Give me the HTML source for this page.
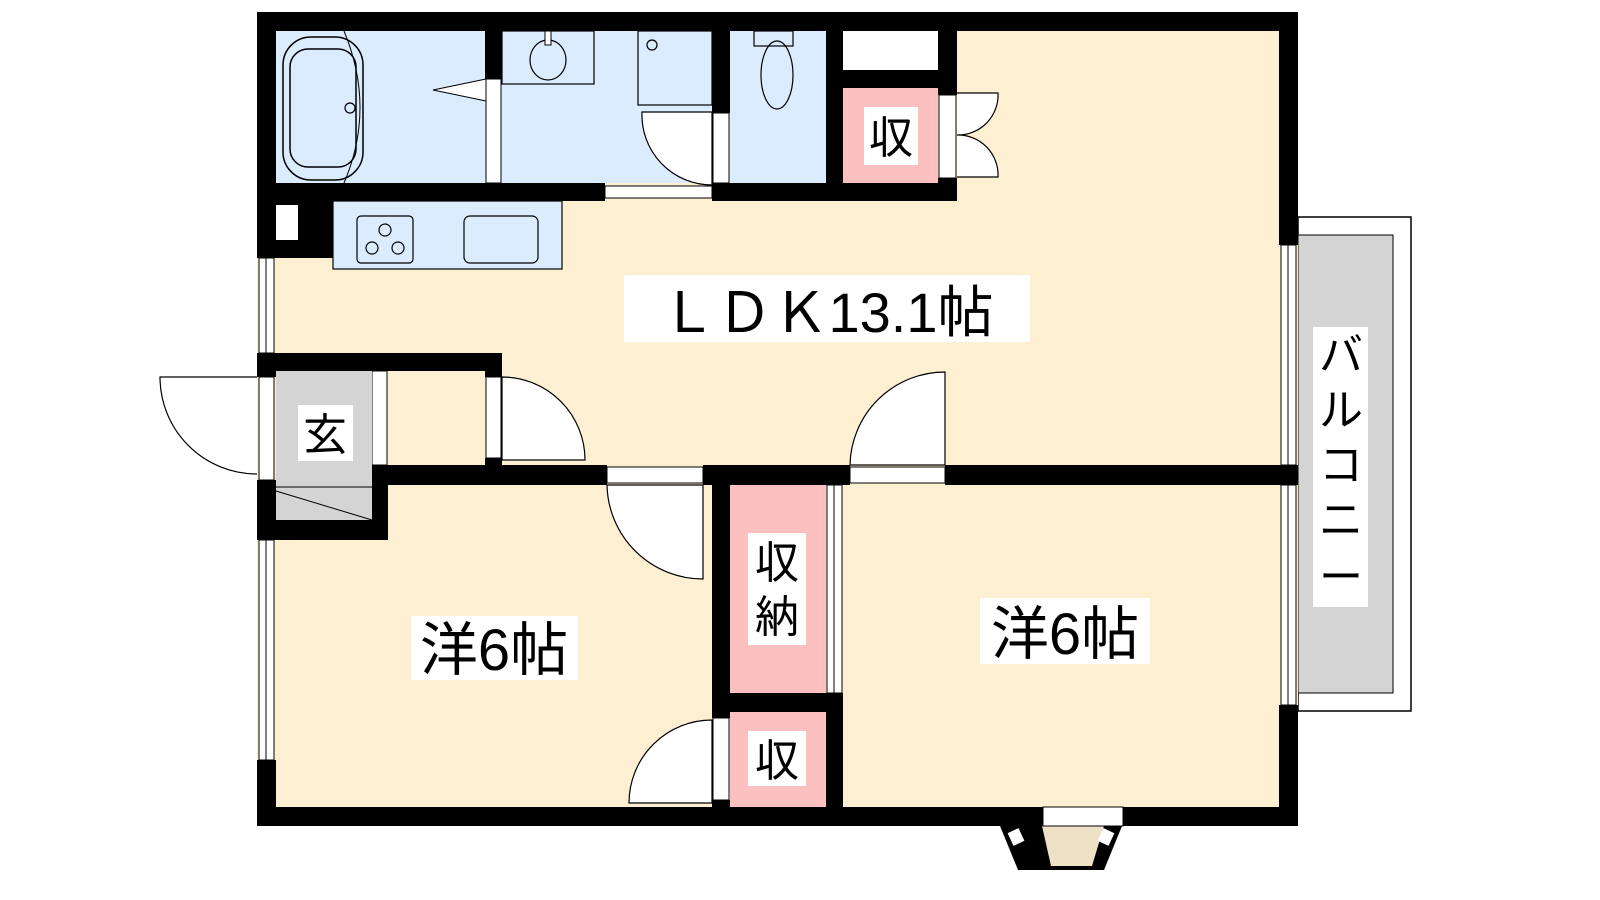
<!DOCTYPE html>
<html><head><meta charset="utf-8"><style>
html,body{margin:0;padding:0;background:#fff;width:1600px;height:900px;overflow:hidden}
svg{display:block}
text{font-family:"Liberation Sans","Noto Sans CJK JP",sans-serif;fill:#000}
</style></head><body>
<svg width="1600" height="900" viewBox="0 0 1600 900" xmlns="http://www.w3.org/2000/svg">
<!-- balcony -->
<rect x="1298" y="217" width="113" height="494" fill="#fff" stroke="#000" stroke-width="1.5"/>
<rect x="1298" y="235" width="95" height="458" fill="#d4d4d4" stroke="#000" stroke-width="1"/>
<rect x="1313" y="327" width="55" height="280" fill="#fff"/>
<text x="1341" y="370" font-size="44" text-anchor="middle">バ</text>
<text x="1341" y="425" font-size="44" text-anchor="middle">ル</text>
<text x="1341" y="480" font-size="44" text-anchor="middle">コ</text>
<text x="1341" y="535" font-size="44" text-anchor="middle">ニ</text>
<text x="1341" y="592" font-size="44" text-anchor="middle">ー</text>
<!-- interior floor -->
<rect x="257" y="12" width="1041" height="814" fill="#fdf0d2"/>
<rect x="276" y="31" width="550" height="152" fill="#dbecfe"/>
<rect x="843" y="31" width="95" height="39" fill="#fff"/>
<rect x="843" y="88" width="95" height="95" fill="#fdc0c0"/>
<!-- bath -->
<rect x="283" y="37" width="80" height="143" rx="28" fill="none" stroke="#000" stroke-width="1.5"/>
<rect x="290" y="49" width="66" height="118" rx="18" fill="none" stroke="#000" stroke-width="1.5"/>
<circle cx="350" cy="108" r="5" fill="none" stroke="#000" stroke-width="1.2"/>
<path d="M344 31 Q376 108 344 183" fill="none" stroke="#000" stroke-width="1"/>
<polygon points="433,90 486,79 486,101" fill="#fff" stroke="#000" stroke-width="1"/>
<!-- basin -->
<rect x="502" y="31" width="92" height="53" fill="none" stroke="#000" stroke-width="1.2"/>
<ellipse cx="548" cy="60" rx="18" ry="20" fill="none" stroke="#000" stroke-width="1.2"/>
<rect x="545" y="31" width="6" height="14" fill="#fff" stroke="#000" stroke-width="1"/>
<!-- washer -->
<rect x="638" y="31" width="74" height="74" fill="none" stroke="#000" stroke-width="1.2"/>
<circle cx="652" cy="45" r="5" fill="none" stroke="#000" stroke-width="1.2"/>
<path d="M642 112 L712 112 L712 185 A70 70 0 0 1 642 112 Z" fill="#fff" stroke="#000" stroke-width="1.2"/>
<!-- toilet -->
<rect x="754" y="31" width="39" height="15" fill="none" stroke="#000" stroke-width="1.2"/>
<ellipse cx="777" cy="75" rx="16" ry="34" fill="none" stroke="#000" stroke-width="1.2"/>
<!-- walls -->
<g fill="#000">
<rect x="257" y="12" width="1041" height="19"/>
<rect x="257" y="12" width="19" height="246"/>
<rect x="1279" y="12" width="19" height="233"/>
<rect x="257" y="807" width="1041" height="19"/>
<rect x="485" y="31" width="17" height="48"/>
<rect x="712" y="31" width="18" height="82"/>
<rect x="826" y="31" width="17" height="170"/>
<rect x="938" y="31" width="19" height="64"/>
<rect x="938" y="178" width="19" height="23"/>
<rect x="843" y="70" width="95" height="18"/>
<rect x="257" y="183" width="348" height="18"/>
<rect x="712" y="183" width="245" height="18"/>
<rect x="257" y="183" width="76" height="75"/>
<rect x="257" y="353" width="245" height="18"/>
<rect x="257" y="353" width="19" height="24"/>
<rect x="485" y="353" width="17" height="24"/>
<rect x="485" y="458" width="17" height="10"/>
<rect x="372" y="465" width="235" height="20"/>
<rect x="703" y="465" width="147" height="20"/>
<rect x="945" y="465" width="353" height="20"/>
<rect x="257" y="480" width="19" height="60"/>
<rect x="372" y="465" width="16" height="75"/>
<rect x="257" y="520" width="131" height="20"/>
<rect x="257" y="760" width="19" height="66"/>
<rect x="1279" y="705" width="19" height="121"/>
<rect x="712" y="485" width="18" height="233"/>
<rect x="712" y="800" width="18" height="10"/>
<rect x="712" y="693" width="131" height="19"/>
<rect x="826" y="693" width="17" height="114"/>
</g>
<rect x="276" y="205" width="22" height="35" fill="#fff"/>
<g fill="#fff" stroke="#000" stroke-width="1">
<rect x="486" y="79" width="15" height="104"/>
<rect x="713" y="113" width="16" height="70"/>
<rect x="605" y="186" width="107" height="12"/>
<rect x="939" y="95" width="17" height="83"/>
<rect x="259" y="258" width="15" height="95"/>
<rect x="259" y="540" width="15" height="220"/>
<rect x="1281" y="245" width="15" height="220"/>
<rect x="1281" y="485" width="15" height="220"/>
<rect x="827" y="485" width="15" height="208"/>
<rect x="372" y="371" width="15" height="94"/>
<rect x="486" y="377" width="15" height="81"/>
<rect x="607" y="467" width="96" height="16"/>
<rect x="850" y="467" width="95" height="16"/>
<rect x="713" y="718" width="16" height="82"/>
</g>
<g stroke="#000" stroke-width="1"><line x1="266" y1="258" x2="266" y2="353"/><line x1="266" y1="540" x2="266" y2="760"/><line x1="1288" y1="245" x2="1288" y2="465"/><line x1="1288" y1="485" x2="1288" y2="705"/><line x1="834" y1="485" x2="834" y2="693"/></g>
<path d="M957 93 L998 93 A40 40 0 0 1 957 135 A40 40 0 0 1 998 177 L957 177" fill="#fff" stroke="#000" stroke-width="1.2"/>
<!-- kitchen -->
<rect x="333" y="201" width="229" height="68" fill="#dbecfe" stroke="#000" stroke-width="1.2"/>
<rect x="357" y="216" width="56" height="47" rx="4" fill="none" stroke="#000" stroke-width="1.2"/>
<circle cx="385" cy="230" r="6" fill="none" stroke="#000" stroke-width="1.2"/>
<circle cx="372" cy="248" r="6" fill="none" stroke="#000" stroke-width="1.2"/>
<circle cx="398" cy="248" r="6" fill="none" stroke="#000" stroke-width="1.2"/>
<rect x="464" y="216" width="74" height="47" rx="6" fill="none" stroke="#000" stroke-width="1.2"/>
<!-- genkan -->
<rect x="276" y="371" width="96" height="149" fill="#d4d4d4"/>
<line x1="276" y1="487" x2="372" y2="487" stroke="#000" stroke-width="1"/>
<line x1="276" y1="491" x2="372" y2="520" stroke="#000" stroke-width="1"/>
<rect x="259" y="377" width="15" height="103" fill="#fff" stroke="#000" stroke-width="1"/>
<path d="M257 377 L160 377 A97 97 0 0 0 257 474" fill="#fff" stroke="#000" stroke-width="1.2"/>
<rect x="298" y="405" width="55" height="56" fill="#fff"/>
<text x="325" y="450" font-size="44" text-anchor="middle">玄</text>
<!-- doors -->
<path d="M502 377 A83 83 0 0 1 585 460 L502 460 Z" fill="#fff" stroke="#000" stroke-width="1.2"/>
<path d="M945 372 L945 465 L850 465 A95 95 0 0 1 945 372 Z" fill="#fff" stroke="#000" stroke-width="1.2"/>
<path d="M607 485 L703 485 L703 579 A96 96 0 0 1 607 485 Z" fill="#fff" stroke="#000" stroke-width="1.2"/>
<path d="M712 720 L712 803 L629 803 A83 83 0 0 1 712 720 Z" fill="#fff" stroke="#000" stroke-width="1.2"/>
<!-- closets -->
<rect x="730" y="485" width="96" height="208" fill="#fdc0c0"/>
<rect x="730" y="712" width="96" height="95" fill="#fdc0c0"/>
<rect x="748" y="533" width="58" height="112" fill="#fff"/>
<text x="777" y="578" font-size="44" text-anchor="middle">収</text>
<text x="777" y="632" font-size="44" text-anchor="middle">納</text>
<rect x="748" y="731" width="58" height="55" fill="#fff"/>
<text x="777" y="776" font-size="44" text-anchor="middle">収</text>
<rect x="864" y="107" width="54" height="58" fill="#fff"/>
<text x="891" y="153" font-size="44" text-anchor="middle">収</text>
<!-- bay window -->
<polygon points="1000,826 1122,826 1104,870 1018,870" fill="#000"/>
<polygon points="1042,826 1104,826 1092,866 1051,866" fill="#efe0c8"/>
<rect x="1043" y="807" width="80" height="19" fill="#fff" stroke="#000" stroke-width="1"/>
<rect x="1010" y="830" width="12" height="14" fill="#fff" transform="rotate(-25 1016 837)"/>
<rect x="1100" y="830" width="12" height="14" fill="#fff" transform="rotate(25 1106 837)"/>
<!-- labels -->
<rect x="624" y="275" width="406" height="67" fill="#fff"/>
<text x="827" y="332" font-size="56" text-anchor="middle">ＬＤＫ13.1帖</text>
<rect x="411" y="616" width="167" height="64" fill="#fff"/>
<text x="494" y="670" font-size="58" text-anchor="middle">洋6帖</text>
<rect x="980" y="598" width="170" height="66" fill="#fff"/>
<text x="1065" y="654" font-size="58" text-anchor="middle">洋6帖</text>
</svg>
</body></html>
